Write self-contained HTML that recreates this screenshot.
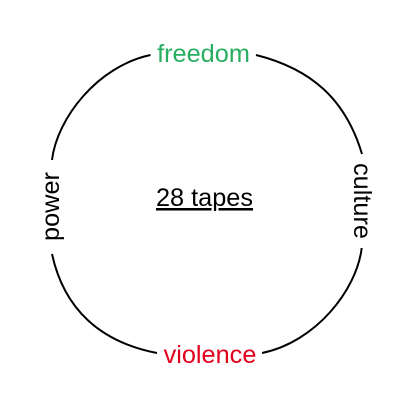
<!DOCTYPE html>
<html>
<head>
<meta charset="utf-8">
<style>
html,body{margin:0;padding:0;background:#fff;width:417px;height:417px;overflow:hidden}
svg{display:block}
text{font-family:"Liberation Sans",Arial,sans-serif;font-size:25.3px}
</style>
</head>
<body>
<svg width="417" height="417" viewBox="0 0 417 417">
<rect width="417" height="417" fill="#fff"/>
<g fill="none" stroke="#000" stroke-width="2">
<path d="M52,160 C57,118 98,66 150.5,55"/>
<path d="M256,55 C311,68.75 345.5,99 362,154"/>
<path d="M361.7,248 C356.7,290 315.7,342 262,353"/>
<path d="M157,353 C100,342 64,309 52,254"/>
</g>
<text x="203.5" y="62" text-anchor="middle" fill="#27ae60">freedom</text>
<text x="210" y="363" text-anchor="middle" fill="#e0001b">violence</text>
<text transform="translate(59,206.5) rotate(-90)" text-anchor="middle" fill="#000">power</text>
<text transform="translate(354,201) rotate(90)" text-anchor="middle" fill="#000">culture</text>
<text x="204.5" y="206" text-anchor="middle" fill="#000" text-decoration="underline">28 tapes</text>
</svg>
</body>
</html>
